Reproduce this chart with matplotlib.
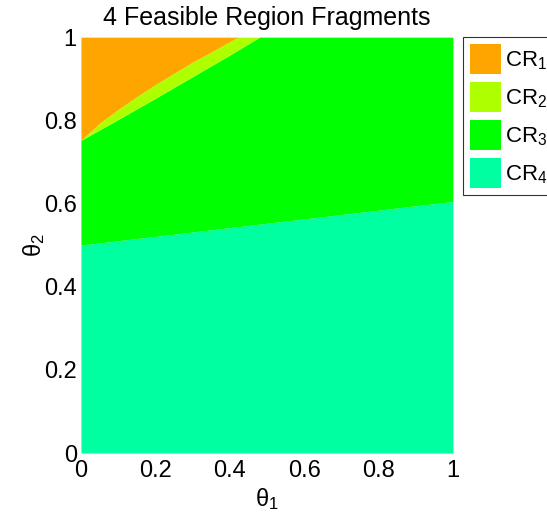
import matplotlib
matplotlib.use('Agg')
import matplotlib.pyplot as plt
from matplotlib.patches import Patch
import numpy as np

plt.rcParams['font.family'] = ['Liberation Sans', 'DejaVu Sans']
plt.rcParams['mathtext.fontset'] = 'custom'
plt.rcParams['mathtext.rm'] = 'Liberation Sans'
plt.rcParams['mathtext.it'] = 'Liberation Sans'

# boundaries
# CR4 / CR3 (straight line)
b43_x = [0.0, 1.0]
b43_y = [0.500, 0.605]
# CR3 / CR2 (lower edge of the thin band)
b32_x = [0.0, 0.10, 0.20, 0.30, 0.40, 0.48]
b32_y = [0.752, 0.802, 0.853, 0.905, 0.957, 1.0]
# CR2 / CR1 (upper edge of the thin band)
b21_x = [0.0, 0.05, 0.10, 0.15, 0.20, 0.25, 0.30, 0.35, 0.422]
b21_y = [0.752, 0.793, 0.826, 0.857, 0.886, 0.913, 0.940, 0.964, 1.0]

regions = ['CR$_1$', 'CR$_2$', 'CR$_3$', 'CR$_4$']
colors = ['#FFA500', '#AEFF00', '#00FF00', '#00FFA0']

fig = plt.figure(figsize=(5.47, 5.16), dpi=100)
ax = fig.add_axes([0.148, 0.122, 0.680, 0.806])

x = np.linspace(0, 1, 500)
y43 = np.interp(x, b43_x, b43_y)
y32 = np.interp(x, b32_x, b32_y, right=1.0)
y21 = np.interp(x, b21_x, b21_y, right=1.0)

ax.fill_between(x, 0, y43, color=colors[3], lw=0)
ax.fill_between(x, y43, y32, color=colors[2], lw=0)
ax.fill_between(x, y32, y21, color=colors[1], lw=0)
ax.fill_between(x, y21, 1, color=colors[0], lw=0)

ticks = [0, 0.2, 0.4, 0.6, 0.8, 1]
tick_labels = ['0', '0.2', '0.4', '0.6', '0.8', '1']
ax.set_xlim(0, 1)
ax.set_ylim(0, 1)
ax.set_xticks(ticks)
ax.set_xticklabels(tick_labels)
ax.set_yticks(ticks)
ax.set_yticklabels(tick_labels)
ax.tick_params(length=0, labelsize=17)
ax.tick_params(axis='x', pad=5)
ax.tick_params(axis='y', pad=3)
for s in ax.spines.values():
    s.set_visible(False)

ax.set_title('4 Feasible Region Fragments', fontsize=18, pad=9)
ax.set_xlabel('θ$_1$', fontsize=17, labelpad=3)
ax.set_ylabel('θ$_2$', fontsize=17, labelpad=-2)

handles = [Patch(facecolor=c, edgecolor='none') for c in colors]
leg = ax.legend(handles, regions, loc='upper left', bbox_to_anchor=(1.027, 1.0),
                fontsize=16, frameon=True, fancybox=False, edgecolor='black',
                handlelength=1.4, handleheight=1.7, handletextpad=0.18,
                labelspacing=0.36, borderaxespad=0, borderpad=0.32)
leg.get_frame().set_linewidth(0.8)

fig.savefig('out.png', dpi=100)
